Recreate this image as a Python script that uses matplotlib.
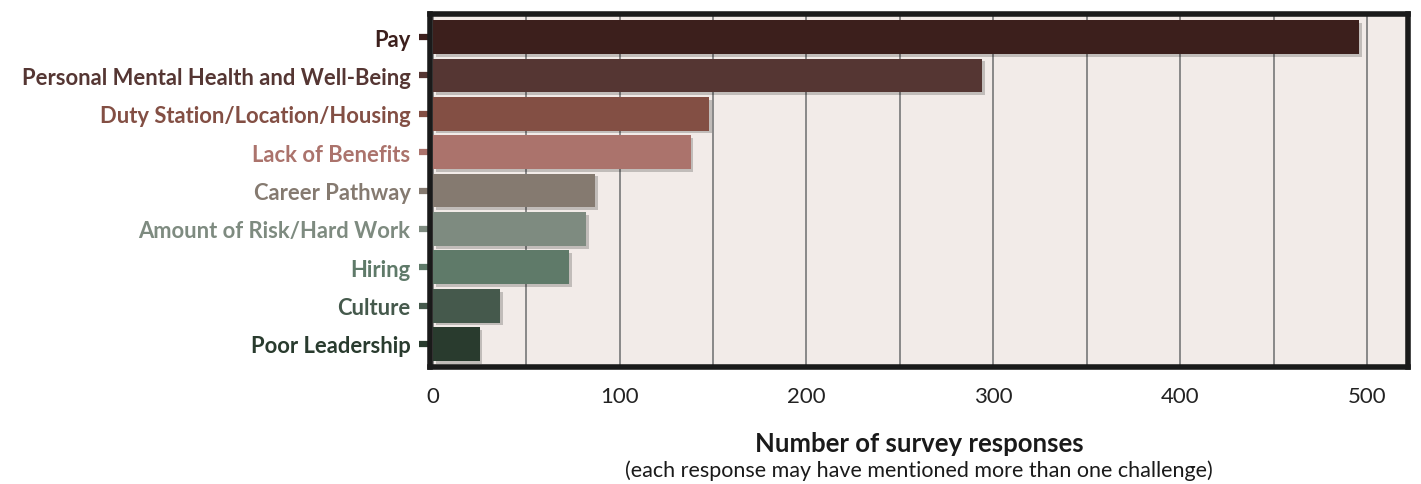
import matplotlib
matplotlib.use("Agg")
import matplotlib.pyplot as plt
import matplotlib.patheffects as pe

categories = ["Pay", "Personal Mental Health and Well-Being", "Duty Station/Location/Housing",
              "Lack of Benefits", "Career Pathway", "Amount of Risk/Hard Work", "Hiring",
              "Culture", "Poor Leadership"]
values = [496, 294, 148, 138, 87, 82, 73, 36, 25]
colors = ["#3c1f1c", "#553633", "#834f44", "#ab736c", "#857a70", "#7e8b80", "#5f7a69", "#45594c", "#293b2e"]
xticks = [0, 100, 200, 300, 400, 500]

plt.rcParams['font.family'] = ['Lato', 'DejaVu Sans']

fig = plt.figure(figsize=(14.21, 4.85), dpi=100)
ax = fig.add_axes([0.3026, 0.2412, 0.6883, 0.7278])
ax.set_facecolor("#f2ebe8")

y = list(range(len(categories)))
bars = ax.barh(y, values, height=0.88, color=colors, zorder=3)
for b in bars:
    b.set_path_effects([pe.SimplePatchShadow(offset=(2, -2), shadow_rgbFace="#000000", alpha=0.2), pe.Normal()])

ax.set_xlim(-1.5, 522)
ax.set_ylim(len(categories) - 0.4, -0.6)
ax.set_xticks(xticks)
ax.set_xticks(range(50, 521, 50), minor=True)
ax.grid(True, axis="x", which="both", color="#808080", linewidth=1.3, zorder=1)
ax.tick_params(axis="x", which="both", length=0, pad=14, labelsize=16, labelcolor="#222222")
ax.set_yticks(y)
ax.set_yticklabels(categories, fontsize=15.8, fontweight="bold")
ax.tick_params(axis="y", length=8, width=4.5, pad=6)
for lab, c, t in zip(ax.get_yticklabels(), colors, ax.yaxis.get_major_ticks()):
    lab.set_color(c)
    t.tick1line.set_markeredgecolor(c)
    t.tick1line.set_color(c)

for s in ax.spines.values():
    s.set_linewidth(4)
    s.set_color("#1a1a1a")
    s.set_zorder(5)

fig.text(0.6467, 0.085, "Number of survey responses", ha="center", va="center", fontsize=18.5, fontweight="bold", color="#1a1a1a")
fig.text(0.6467, 0.03, "(each response may have mentioned more than one challenge)", ha="center", va="center", fontsize=15.5, color="#1a1a1a")

fig.savefig("out.png", dpi=100)
